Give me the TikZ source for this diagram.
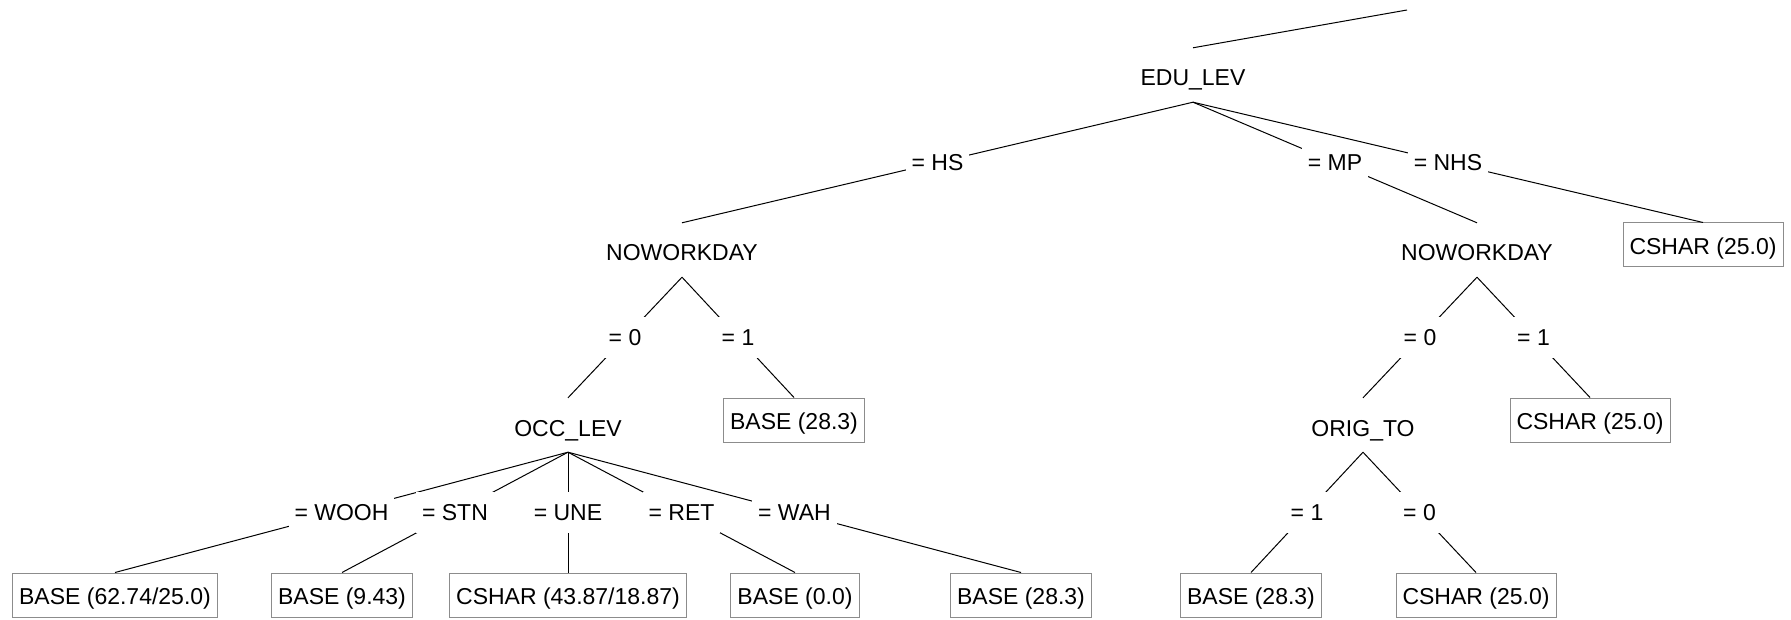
\documentclass[tikz,border=0pt]{standalone}
\usepackage{fontspec}
\setmainfont{Liberation Sans}
\begin{document}
\begin{tikzpicture}[x=1pt,y=-1pt,
  every node/.style={font=\fontsize{23}{27}\selectfont},
  inode/.style={anchor=base, inner xsep=2pt, inner ysep=0pt, text height=38pt, text depth=16pt},
  leaf/.style={draw=black!45, line width=1pt, fill=white, minimum height=44pt, inner xsep=6.5pt, inner ysep=0pt, text height=19.5pt, text depth=0pt},
  elabel/.style={fill=white, inner xsep=6pt, inner ysep=12.5pt, text height=16.5pt, text depth=0pt},
  edge/.style={draw=black, line width=1pt}
]
\useasboundingbox (0,0) rectangle (1791,620);
% internal nodes
\node[inode] (edu)  at (1193,86)  {EDU\_LEV};
\node[inode] (nw1)  at (682,261)  {NOWORKDAY};
\node[inode] (nw2)  at (1477,261) {NOWORKDAY};
\node[inode] (occ)  at (568,436)  {OCC\_LEV};
\node[inode] (orig) at (1363,436) {ORIG\_TO};
% leaves
\node[leaf] (c1)  at (1703,245) {CSHAR (25.0)};
\node[leaf] (b6)  at (794,420)  {BASE (28.3)};
\node[leaf] (c8)  at (1590,420) {CSHAR (25.0)};
\node[leaf] (b1)  at (115,595)  {BASE (62.74/25.0)};
\node[leaf] (b2)  at (342,595)  {BASE (9.43)};
\node[leaf] (c3)  at (568,595)  {CSHAR (43.87/18.87)};
\node[leaf] (b4)  at (795,595)  {BASE (0.0)};
\node[leaf] (b5)  at (1021,595) {BASE (28.3)};
\node[leaf] (b9)  at (1251,595) {BASE (28.3)};
\node[leaf] (c10) at (1476,595) {CSHAR (25.0)};
% root stub
\coordinate (top) at (1407,10);
\draw[edge] (top) -- (edu.north);
% edges
\draw[edge] (edu.south) -- node[elabel,midway] {= HS} (nw1.north);
\draw[edge] (edu.south) -- node[elabel,midway] {= MP} (nw2.north);
\draw[edge] (edu.south) -- node[elabel,midway] {= NHS} (c1.north);
\draw[edge] (nw1.south) -- node[elabel,midway] {= 0} (occ.north);
\draw[edge] (nw1.south) -- node[elabel,midway] {= 1} (b6.north);
\draw[edge] (occ.south) -- node[elabel,midway] {= WOOH} (b1.north);
\draw[edge] (occ.south) -- node[elabel,midway] {= STN} (b2.north);
\draw[edge] (occ.south) -- node[elabel,midway] {= UNE} (c3.north);
\draw[edge] (occ.south) -- node[elabel,midway] {= RET} (b4.north);
\draw[edge] (occ.south) -- node[elabel,midway] {= WAH} (b5.north);
\draw[edge] (nw2.south) -- node[elabel,midway] {= 0} (orig.north);
\draw[edge] (nw2.south) -- node[elabel,midway] {= 1} (c8.north);
\draw[edge] (orig.south) -- node[elabel,midway] {= 1} (b9.north);
\draw[edge] (orig.south) -- node[elabel,midway] {= 0} (c10.north);
\end{tikzpicture}
\end{document}
